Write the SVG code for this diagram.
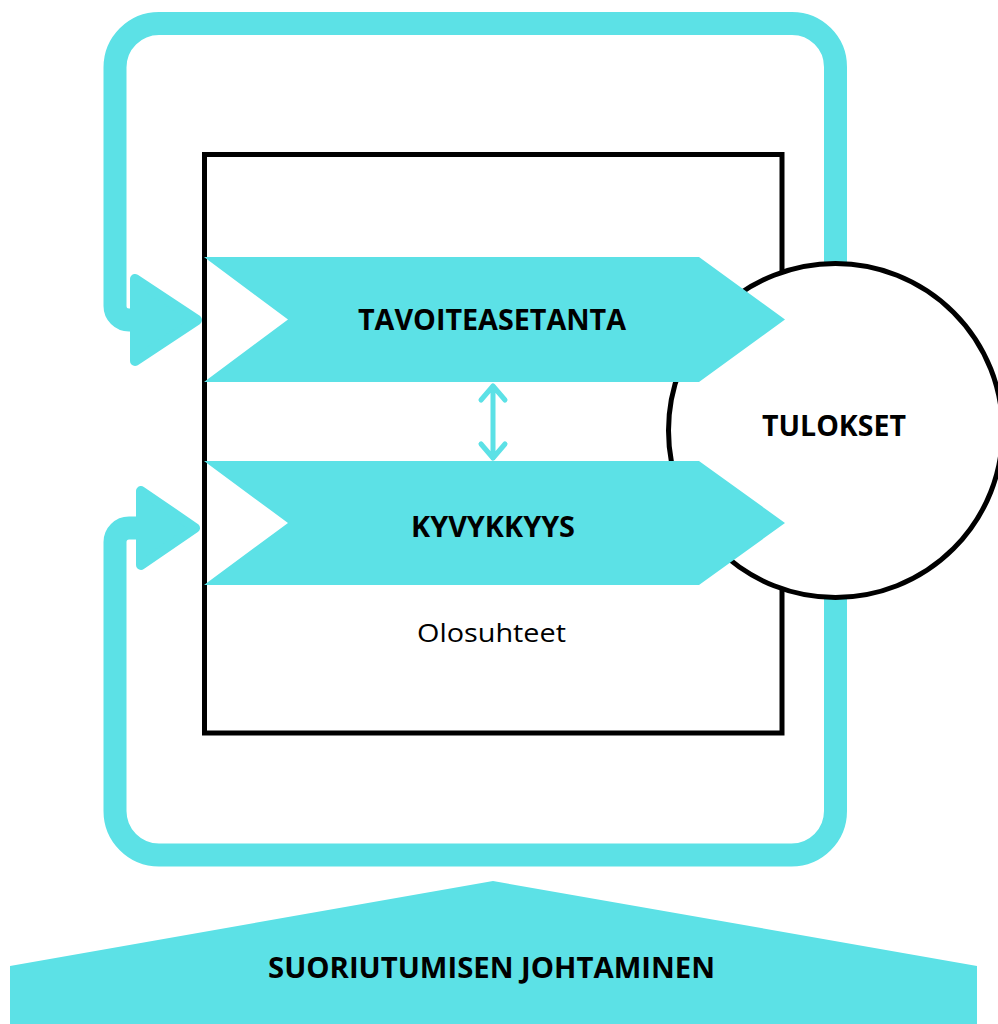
<svg xmlns="http://www.w3.org/2000/svg" width="998" height="1024" viewBox="0 0 998 1024">
  <defs>
    <style>
      .loop { fill: none; stroke: #5ce1e6; stroke-width: 23; stroke-linejoin: round; }
      .head { fill: #5ce1e6; stroke: #5ce1e6; stroke-width: 10; stroke-linejoin: round; }
      .band { fill: #5ce1e6; }
      .frame { fill: #ffffff; stroke: #000000; stroke-width: 5; }
      .link { fill: none; stroke: #5ce1e6; stroke-width: 5; stroke-linecap: round; stroke-linejoin: round; }
      .bold { font-family: "Open Sans", "Noto Sans", "Liberation Sans", sans-serif; font-weight: 700; font-size: 28px; fill: #000000; text-anchor: middle; }
      .reg { font-family: "Open Sans", "Noto Sans", "Liberation Sans", sans-serif; font-weight: 400; font-size: 26px; fill: #000000; text-anchor: middle; }
    </style>
  </defs>

  <!-- environment frame -->
  <g id="olosuhteet">
    <rect class="frame" x="204.5" y="154.5" width="577.5" height="578.5"/>
    <text class="reg" x="491.5" y="642" textLength="149" lengthAdjust="spacingAndGlyphs">Olosuhteet</text>
  </g>

  <!-- feedback loops -->
  <g id="connectors">
    <path class="loop" d="M 835.5 262 V 67 A 43.5 43.5 0 0 0 792 23.5 H 159 A 44 44 0 0 0 115 67.5 V 306 A 14 14 0 0 0 129 320 H 150"/>
    <polygon class="head" points="135,279 135,361 197,320"/>
    <path class="loop" d="M 150 528 H 129 A 14 14 0 0 0 115 542 V 811 A 44 44 0 0 0 159 855 H 791.5 A 44 44 0 0 0 835.5 811 V 598"/>
    <polygon class="head" points="141,491 141,565 195,528"/>
    <path class="link" d="M 493 386 V 458 M 481 400 L 493 386 L 505 400 M 481 444 L 493 458 L 505 444"/>
  </g>

  <!-- results -->
  <g id="tulokset">
    <circle cx="835.5" cy="430.5" r="167" fill="#ffffff" stroke="#000000" stroke-width="5"/>
    <text class="bold" x="834" y="436" textLength="144" lengthAdjust="spacingAndGlyphs">TULOKSET</text>
  </g>

  <g id="tavoiteasetanta">
    <polygon class="band" points="204,257 699,257 785,319.5 699,382 204,382 288,319.5"/>
    <text class="bold" x="492" y="330" textLength="268" lengthAdjust="spacingAndGlyphs">TAVOITEASETANTA</text>
  </g>

  <g id="kyvykkyys">
    <polygon class="band" points="204,461 699,461 785,523 699,585 204,585 288,523"/>
    <text class="bold" x="493" y="537" textLength="164" lengthAdjust="spacingAndGlyphs">KYVYKKYYS</text>
  </g>

  <g id="suoriutumisen-johtaminen">
    <polygon class="band" points="493,881 977,966 977,1024 10,1024 10,966"/>
    <text class="bold" x="491.5" y="978" textLength="447" lengthAdjust="spacingAndGlyphs">SUORIUTUMISEN JOHTAMINEN</text>
  </g>
</svg>
